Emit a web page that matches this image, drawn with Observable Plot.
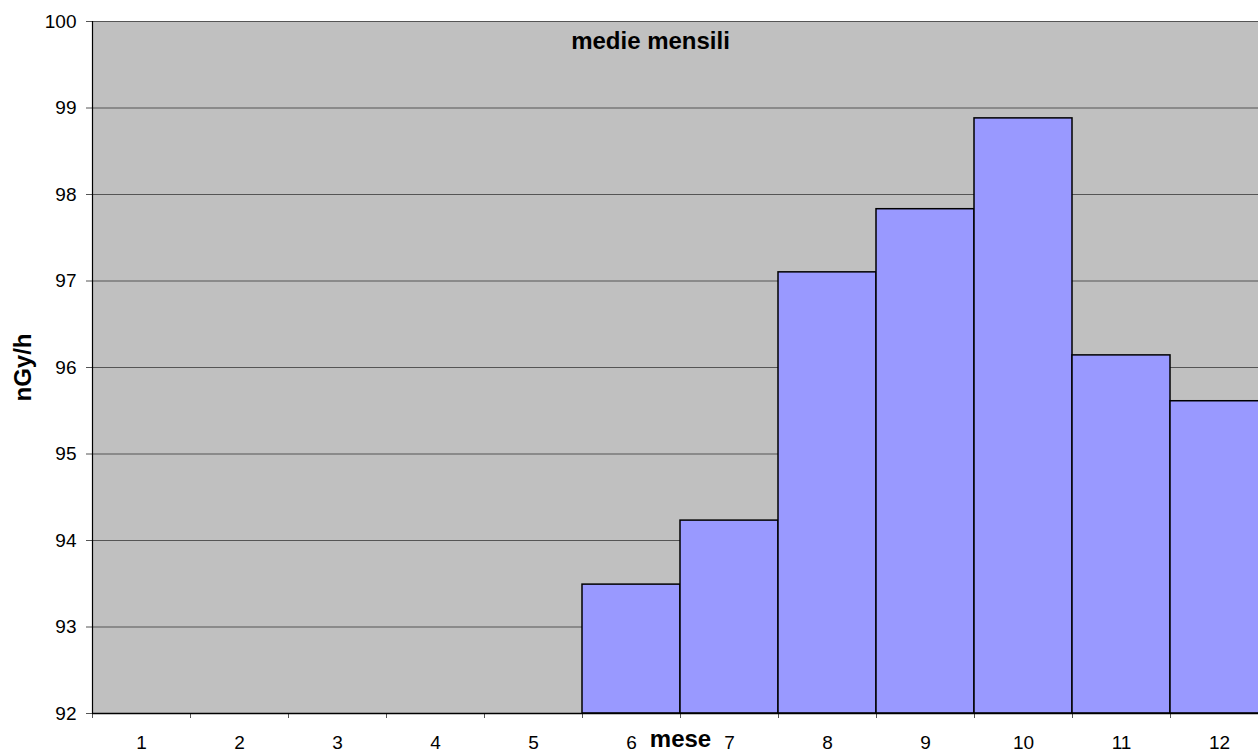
<!DOCTYPE html>
<html>
<head>
<meta charset="utf-8">
<script src="https://cdn.jsdelivr.net/npm/d3@7"></script>
<script src="https://cdn.jsdelivr.net/npm/@observablehq/plot@0.6"></script>
<style>
  html, body { margin: 0; padding: 0; background: #fff; overflow: hidden; width: 1258px; height: 754px; }
  #chart { width: 1268px; }
  #chart svg { display: block; max-width: none !important; height: 754px !important; font-family: "Liberation Sans", Arial, sans-serif; }
</style>
</head>
<body>
<div id="chart"></div>
<script>
const months = [1, 2, 3, 4, 5, 6, 7, 8, 9, 10, 11, 12];
const barMonths = [6, 7, 8, 9, 10, 11, 12];
const values = [93.49, 94.23, 97.10, 97.83, 98.88, 96.14, 95.61];
const yTicks = [92, 93, 94, 95, 96, 97, 98, 99, 100];
const title = "medie mensili";
const xLabel = "mese";
const yLabel = "nGy/h";

const data = barMonths.map((m, i) => ({ month: m, value: values[i] }));
const boundaries = months.map(m => m - 0.5).concat([months[months.length - 1] + 0.5]);

const chart = Plot.plot({
  width: 1268,
  height: 754,
  marginLeft: 92,
  marginRight: 0,
  marginTop: 21,
  marginBottom: 41,
  style: { fontFamily: "'Liberation Sans', Arial, sans-serif", background: "#fff" },
  x: { type: "linear", domain: [0.5, 12.5] },
  y: { domain: [92, 100] },
  marks: [
    Plot.frame({ fill: "#c0c0c0", stroke: "none" }),
    Plot.gridY(yTicks, { stroke: "#555", strokeOpacity: 1, strokeWidth: 1 }),
    Plot.rectY(data, {
      x1: d => d.month - 0.5,
      x2: d => d.month + 0.5,
      y1: 92,
      y2: "value",
      fill: "#9999ff",
      stroke: "#000",
      strokeWidth: 1.5
    }),
    Plot.axisY({ ticks: yTicks, tickSize: 6, tickPadding: 10, fontSize: 19, stroke: "#555", fill: "#000", label: null }),
    Plot.axisX({ ticks: boundaries, tickSize: 5, tickFormat: () => "", stroke: "#555", label: null }),
    Plot.axisX({ ticks: months, tickSize: 0, tickPadding: 22, fontSize: 19, fill: "#000", label: null, tickFormat: d => String(d) }),
    Plot.ruleX([0.5], { stroke: "#000", strokeWidth: 1.2 }),
    Plot.ruleY([92], { stroke: "#000", strokeWidth: 1.5 }),
    Plot.text([title], { frameAnchor: "top", textAnchor: "middle", dx: -30, dy: 20, lineAnchor: "middle", fontWeight: "bold", fontSize: 24, fill: "#000" }),
    Plot.text([xLabel], { frameAnchor: "bottom", textAnchor: "middle", dx: 0, dy: 26, lineAnchor: "middle", fontWeight: "bold", fontSize: 24, fill: "#000" }),
    Plot.text([yLabel], { frameAnchor: "left", textAnchor: "middle", dx: -69, dy: 0, rotate: -90, lineAnchor: "middle", fontWeight: "bold", fontSize: 24, fill: "#000" })
  ]
});
document.getElementById("chart").appendChild(chart);
</script>
</body>
</html>
